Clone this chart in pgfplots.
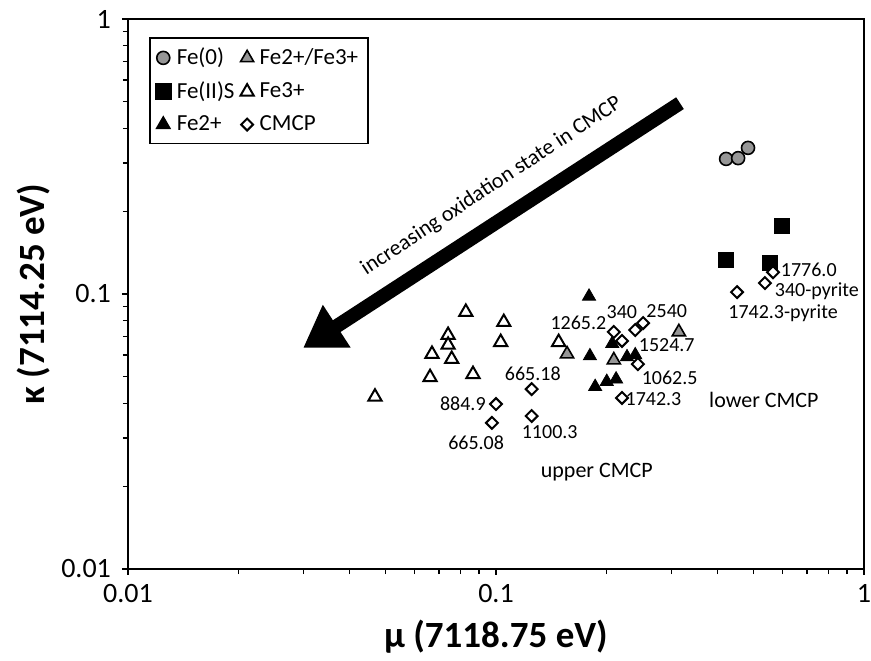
\documentclass[border=0pt]{standalone}
\usepackage{fontspec}
\setmainfont{Carlito}
\usepackage{pgfplots}
\pgfplotsset{compat=1.18}
\usetikzlibrary{arrows.meta}
\definecolor{mgray}{RGB}{150,150,150}
\begin{document}
\begin{tikzpicture}
\begin{axis}[
  xmode=log, ymode=log,
  xmin=0.01, xmax=1, ymin=0.01, ymax=1,
  width=368pt, height=275pt, scale only axis,
  axis line style={line width=0.8pt},
  xtick={0.01,0.1,1}, xticklabels={0.01,0.1,1},
  ytick={0.01,0.1,1}, yticklabels={0.01,0.1,1},
  xtick pos=bottom, ytick pos=left,
  tick align=outside,
  major tick length=3pt, minor tick length=2.5pt,
  every tick/.style={black, line width=0.7pt},
  /pgf/number format/assume math mode=true,
  tick label style={font=\fontsize{14}{16}\selectfont},
  yticklabel style={xshift=-2pt},
  xticklabel style={yshift=-1pt},
  xlabel={\textbf{μ (7118.75 eV)}},
  ylabel={\textbf{κ (7114.25 eV)}},
  xlabel style={font=\fontsize{18.5}{20}\selectfont, at={(axis description cs:0.5,0)}, anchor=center, yshift=-34pt},
  ylabel style={font=\fontsize{18.5}{20}\selectfont, at={(axis description cs:-0.128,0.5)}, anchor=center},
  legend columns=2,
  legend cell align=left,
  legend style={at={(rel axis cs:0.0285,0.967)}, anchor=north west,
    draw=black, line width=0.8pt, font=\fontsize{11.5}{13}\selectfont,
    row sep=3pt, column sep=1pt, inner xsep=3pt, inner ysep=3pt},
  clip=false,
]
\addplot[only marks, mark=*, mark size=3.25pt, mark options={fill=mgray, draw=black, line width=0.8pt}]
  coordinates {(0.422,0.310) (0.455,0.312) (0.484,0.340)};
\addlegendentry{Fe(0)}
\addplot[only marks, mark=triangle*, mark size=3.8pt, mark options={fill=mgray, draw=black, line width=0.8pt}]
  coordinates {(0.156,0.0605) (0.209,0.0575) (0.314,0.0728)};
\addlegendentry{Fe2+/Fe3+}
\addplot[only marks, mark=square*, mark size=3.75pt, mark options={fill=black, draw=black}]
  coordinates {(0.598,0.177) (0.422,0.133) (0.555,0.130)};
\addlegendentry{Fe(II)S}
\addplot[only marks, mark=triangle*, mark size=3.8pt, mark options={fill=white, draw=black, line width=1pt}]
  coordinates {(0.0469,0.0423) (0.0828,0.086) (0.105,0.079) (0.0741,0.0709) (0.0741,0.0653) (0.067,0.0605) (0.0758,0.058) (0.0662,0.0498) (0.0866,0.0511) (0.103,0.0668) (0.148,0.0668)};
\addlegendentry{Fe3+}
\addplot[only marks, mark=triangle*, mark size=3.8pt, mark options={fill=black, draw=black}]
  coordinates {(0.179,0.098) (0.207,0.066) (0.180,0.0595) (0.227,0.059) (0.239,0.060) (0.186,0.046) (0.200,0.048) (0.212,0.049)};
\addlegendentry{Fe2+}
\addplot[only marks, mark=square*, mark size=2.1pt, mark options={rotate=45, fill=white, draw=black, line width=1pt}]
  coordinates {(0.209,0.0728) (0.220,0.0675) (0.239,0.074) (0.251,0.0784) (0.243,0.0556) (0.220,0.0419) (0.125,0.0451) (0.100,0.0398) (0.0975,0.034) (0.125,0.036) (0.566,0.120) (0.538,0.1096) (0.452,0.1016)};
\addlegendentry{CMCP}

\draw[line width=7pt, -{Triangle[width=24pt,length=20pt]}] (rel axis cs:0.750,0.847) -- (rel axis cs:0.238,0.402);
\node[rotate=33.4, font=\fontsize{11}{13}\selectfont] at (rel axis cs:0.494,0.696) {increasing oxidation state in CMCP};

\begin{scope}[every node/.style={font=\fontsize{10}{12}\selectfont, inner sep=0pt}]
\node at (rel axis cs:0.612,0.447) {1265.2};
\node at (rel axis cs:0.671,0.468) {340};
\node at (rel axis cs:0.732,0.469) {2540};
\node at (rel axis cs:0.732,0.407) {1524.7};
\node at (rel axis cs:0.736,0.347) {1062.5};
\node at (rel axis cs:0.714,0.309) {1742.3};
\node at (rel axis cs:0.550,0.355) {665.18};
\node at (rel axis cs:0.455,0.300) {884.9};
\node at (rel axis cs:0.473,0.229) {665.08};
\node at (rel axis cs:0.573,0.249) {1100.3};
\node at (rel axis cs:0.925,0.544) {1776.0};
\node at (rel axis cs:0.936,0.505) {340-pyrite};
\node at (rel axis cs:0.890,0.465) {1742.3-pyrite};
\end{scope}
\node[font=\fontsize{11}{13}\selectfont, inner sep=0pt] at (rel axis cs:0.637,0.176) {upper CMCP};
\node[font=\fontsize{11}{13}\selectfont, inner sep=0pt] at (rel axis cs:0.864,0.307) {lower CMCP};
\end{axis}
\pgfresetboundingbox
\path (-64pt,-45.5pt) rectangle (371.5pt,284.5pt);
\end{tikzpicture}
\end{document}
